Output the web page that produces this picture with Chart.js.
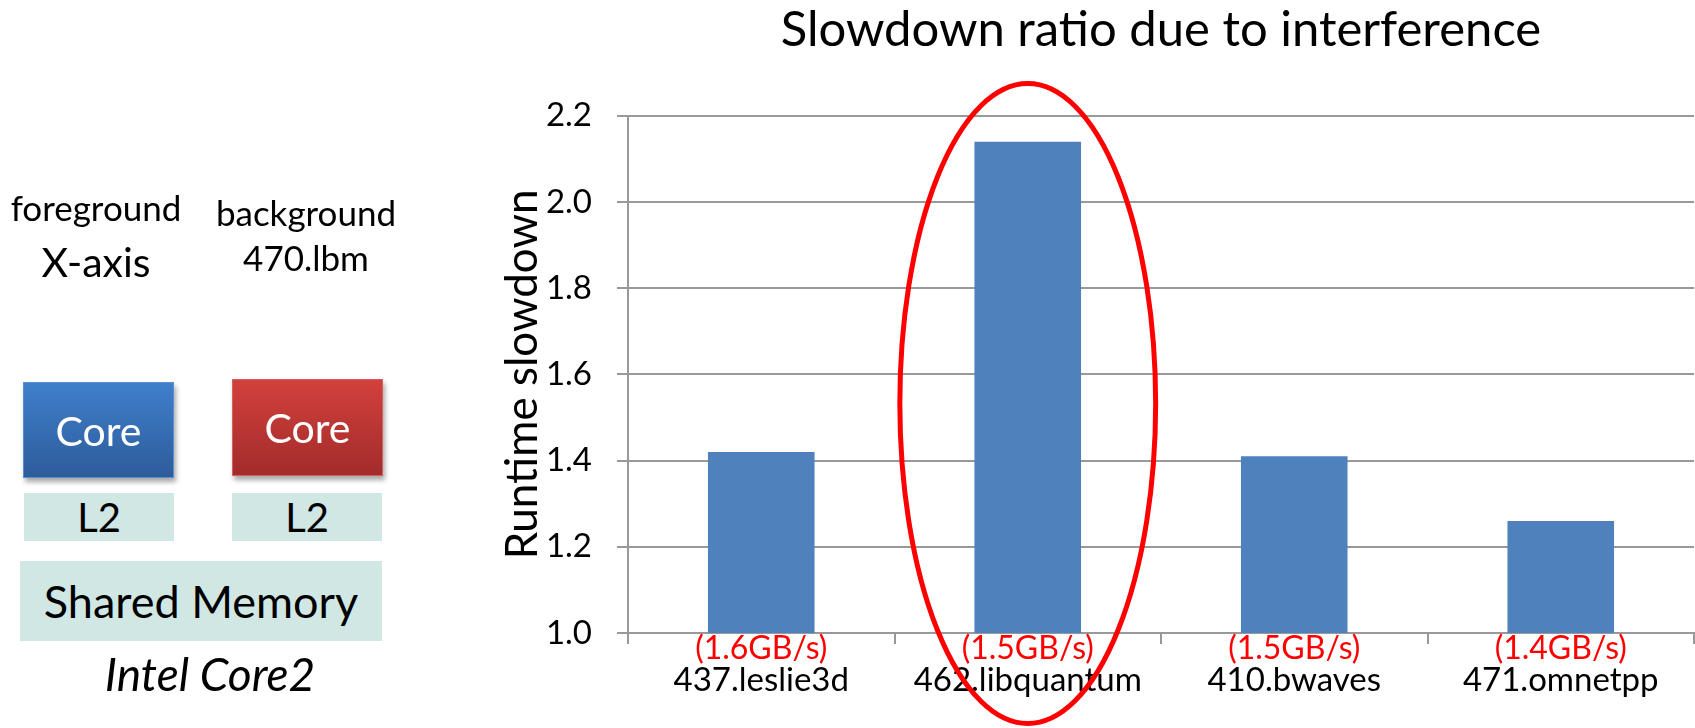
<!DOCTYPE html>
<html>
<head>
<meta charset="utf-8">
<script src="https://cdn.jsdelivr.net/npm/chart.js@4/dist/chart.umd.min.js"></script>
<style>
  html, body { margin: 0; padding: 0; background: #fff; }
  body { width: 1695px; height: 728px; position: relative; overflow: hidden; font-family: Lato, sans-serif; color: #000; }
  #chart { position: absolute; left: 0; top: 0; }
  .lbl { position: absolute; transform: translate(-50%, -50%); white-space: nowrap; line-height: 1; }
  .box { position: absolute; display: flex; align-items: center; justify-content: center; line-height: 1; box-sizing: border-box; }
  .core { color: #fff; font-size: 41px; box-shadow: 2px 4px 5px rgba(0,0,0,0.35); }
  .core.fg { background: linear-gradient(#3f7fcc, #2d5c9a); border: 1px solid #5a90d2; }
  .core.bg { background: linear-gradient(#d2403d, #a22c2a); border: 1px solid #d8605c; }
  .cache { background: #d0e7e3; font-size: 40px; }
</style>
</head>
<body>
<canvas id="chart" width="1695" height="728"></canvas>

<!-- machine diagram -->
<div class="lbl" style="left:96px; top:207px; font-size:35px;">foreground</div>
<div class="lbl" style="left:96px; top:261px; font-size:41px;">X-axis</div>
<div class="lbl" style="left:306px; top:212px; font-size:35px;">background</div>
<div class="lbl" style="left:306px; top:257px; font-size:35px;">470.lbm</div>
<div class="box core fg" style="left:23px; top:382px; width:151px; height:96px;">Core</div>
<div class="box core bg" style="left:232px; top:379px; width:151px; height:97px;">Core</div>
<div class="box cache" style="left:24px; top:493px; width:150px; height:48px;">L2</div>
<div class="box cache" style="left:232px; top:493px; width:150px; height:48px;">L2</div>
<div class="box cache" style="left:20px; top:561px; width:362px; height:80px; font-size:45px;">Shared Memory</div>
<div class="lbl" style="left:210px; top:674px; font-size:46px; font-style:italic;">Intel Core2</div>

<script>
// benchmarks run in the foreground against 470.lbm
const categories = ['437.leslie3d', '462.libquantum', '410.bwaves', '471.omnetpp'];
// runtime slowdown ratio of each foreground benchmark
const slowdown = [1.42, 2.14, 1.41, 1.26];
// memory bandwidth of each foreground benchmark
const bandwidth = ['(1.6GB/s)', '(1.5GB/s)', '(1.5GB/s)', '(1.4GB/s)'];
// y axis tick labels
const yTickLabels = ['1.0', '1.2', '1.4', '1.6', '1.8', '2.0', '2.2'];

const GRID = '#999999';

// red bandwidth line under each category label
const bandwidthLabels = {
  id: 'bandwidthLabels',
  afterDraw(chart) {
    const x = chart.scales.x;
    const ctx = chart.ctx;
    ctx.save();
    ctx.font = '32px Lato';
    ctx.fillStyle = '#ff0000';
    ctx.textAlign = 'center';
    ctx.textBaseline = 'middle';
    bandwidth.forEach((t, i) => ctx.fillText(t, x.getPixelForValue(i), x.top + 16));
    ctx.restore();
  }
};

// red ellipse around the most affected benchmark
const highlight = { index: 1, widthFrac: 0.96, low: 0.79, high: 2.275 };
const highlightRing = {
  id: 'highlightRing',
  afterDraw(chart) {
    const x = chart.scales.x, y = chart.scales.y;
    const cx = x.getPixelForValue(highlight.index);
    const band = x.getPixelForValue(1) - x.getPixelForValue(0);
    const top = y.getPixelForValue(highlight.high);
    const bottom = y.getPixelForValue(highlight.low);
    const ctx = chart.ctx;
    ctx.save();
    ctx.strokeStyle = '#ff0000';
    ctx.lineWidth = 5;
    ctx.beginPath();
    ctx.ellipse(cx, (top + bottom) / 2, band * highlight.widthFrac / 2, (bottom - top) / 2, 0, 0, Math.PI * 2);
    ctx.stroke();
    ctx.restore();
  }
};

Chart.defaults.font.family = 'Lato';
Chart.defaults.color = '#000';

new Chart(document.getElementById('chart'), {
  type: 'bar',
  data: {
    labels: categories,
    datasets: [{
      data: slowdown,
      backgroundColor: '#4f81bd',
      borderWidth: 0,
      barPercentage: 0.4,
      categoryPercentage: 1.0
    }]
  },
  options: {
    responsive: false,
    animation: false,
    devicePixelRatio: 1,
    layout: { padding: { left: 440, right: 1, top: 0, bottom: 0 } },
    plugins: {
      legend: { display: false },
      tooltip: { enabled: false },
      title: {
        display: true,
        text: 'Slowdown ratio due to interference',
        fullSize: false,
        color: '#000',
        font: { size: 49, weight: 'normal' },
        padding: { top: 1, bottom: 56 }
      }
    },
    scales: {
      x: {
        afterFit(s) { s.height = 95; },
        grid: { drawOnChartArea: false, drawTicks: true, tickLength: 11, color: GRID, lineWidth: 2, offset: true },
        border: { color: GRID, width: 2 },
        ticks: { font: { size: 33 }, padding: 17, autoSkip: false, maxRotation: 0, color: '#000' }
      },
      y: {
        min: 1.0,
        max: 2.2,
        afterFit(s) { s.width = 188; },
        afterBuildTicks(s) { s.ticks = yTickLabels.map(v => ({ value: parseFloat(v) })); },
        grid: { color: GRID, lineWidth: 2, tickLength: 11 },
        border: { color: GRID, width: 2 },
        ticks: {
          font: { size: 33 },
          padding: 25,
          color: '#000',
          callback: (v, i) => yTickLabels[i]
        },
        title: {
          display: true,
          text: 'Runtime slowdown',
          color: '#000',
          font: { size: 44, weight: 'normal' },
          padding: { top: 56, bottom: 0 }
        }
      }
    }
  },
  plugins: [bandwidthLabels, highlightRing]
});
</script>
</body>
</html>
